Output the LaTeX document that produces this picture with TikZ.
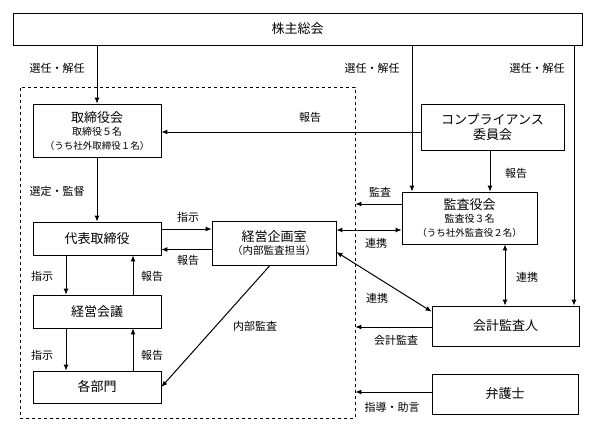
\documentclass[tikz,border=0pt]{standalone}
\usepackage{fontspec}
\setmainfont{Noto Sans CJK JP}
\usetikzlibrary{arrows.meta}
\begin{document}
\begin{tikzpicture}[x=1pt,y=-1pt,
  box/.style={draw,line width=0.8pt,rectangle,inner sep=0pt,align=center,font=\fontsize{13}{16}\selectfont},
  lbl/.style={inner sep=0pt,font=\fontsize{11}{13}\selectfont},
  arr/.style={line width=1pt,-{Latex[length=6pt,width=5pt]}},
  darr/.style={line width=1pt,{Latex[length=6pt,width=5pt]}-{Latex[length=6pt,width=5pt]}},
  grpbox/.style={draw,dashed,line width=0.8pt,rectangle,inner sep=0pt}]
\useasboundingbox (0,0) rectangle (594,431);
% group
\node[grpbox,minimum width=335pt,minimum height=331pt] (grp) at (187.5,252.5) {};
% boxes
\node[box,minimum width=569pt,minimum height=32pt] (sh) at (297.5,29) {株主総会};
\node[box,minimum width=128pt,minimum height=53pt] (tr) at (97,130.5) {取締役会\\[-3pt]{\fontsize{10}{12}\selectfont 取締役５名}\\[-2pt]{\fontsize{9.5}{12}\selectfont （うち社外取締役１名）}};
\node[box,minimum width=128pt,minimum height=33pt] (dt) at (97,238.5) {代表取締役};
\node[box,minimum width=128pt,minimum height=33pt] (kk) at (97,311.5) {経営会議};
\node[box,minimum width=128pt,minimum height=32pt] (kb) at (97,387) {各部門};
\node[box,minimum width=124pt,minimum height=44pt] (mp) at (274,243) {経営企画室\\[-3pt]{\fontsize{10.5}{12}\selectfont （内部監査担当）}};
\node[box,minimum width=143pt,minimum height=46pt] (cp) at (492.5,127) {コンプライアンス\\[-1pt]委員会};
\node[box,minimum width=135pt,minimum height=52pt] (ka) at (469.5,218) {監査役会\\[-3pt]{\fontsize{10}{12}\selectfont 監査役３名}\\[-2pt]{\fontsize{9.5}{12}\selectfont （うち社外監査役２名）}};
\node[box,minimum width=147pt,minimum height=40pt] (ak) at (505.5,326) {会計監査人};
\node[box,minimum width=146pt,minimum height=40pt] (bg) at (505,394) {弁護士};
% arrows
\draw[arr] (sh.south -| tr.north) -- (tr.north);
\draw[arr] ([xshift=-57.5pt]ka.north |- sh.south) -- ([xshift=-57.5pt]ka.north);
\draw[arr] ([xshift=68.5pt]ak.north |- sh.south) -- ([xshift=68.5pt]ak.north);
\draw[arr] ([yshift=-5pt]cp.west) -- ([yshift=-5pt]cp.west -| tr.east);
\draw[arr] ([xshift=-2.5pt]cp.south) -- ([xshift=-2.5pt]cp.south |- ka.north);
\draw[arr] ([yshift=14pt]ka.west) -- ([yshift=14pt]ka.west -| grp.east);
\draw[darr] ([yshift=-12pt]ka.west) -- ([yshift=-12pt]ka.west -| mp.east);
\draw[arr] ([yshift=9.5pt]dt.east) -- ([yshift=9.5pt]dt.east -| mp.west);
\draw[arr] ([yshift=-6.5pt]mp.west) -- ([yshift=-6.5pt]mp.west -| dt.east);
\draw[arr] (tr.south) -- (dt.north);
\draw[arr] ([xshift=-31pt]dt.south) -- ([xshift=-31pt]kk.north);
\draw[arr] ([xshift=36pt]kk.north) -- ([xshift=36pt]dt.south);
\draw[arr] ([xshift=-31pt]kk.south) -- ([xshift=-31pt]kb.north);
\draw[arr] ([xshift=36pt]kb.north) -- ([xshift=36pt]kk.south);
\draw[arr] ([xshift=-4pt]mp.south) -- (kb.east);
\draw[darr] ([yshift=-9pt]mp.east) -- ([yshift=-6pt]ak.north west);
\draw[darr] ([xshift=35.5pt]ka.south) -- ([xshift=35.5pt]ka.south |- ak.north);
\draw[arr] ([yshift=-1pt]ak.west) -- ([yshift=-1pt]ak.west -| grp.east);
\draw[arr] ([yshift=2pt]bg.west) -- ([yshift=2pt]bg.west -| grp.east);
% labels
\node[lbl] (l1) at (57,68) {選任・解任};
\node[lbl] (l2) at (372,68) {選任・解任};
\node[lbl] (l3) at (537,68) {選任・解任};
\node[lbl] (l4) at (310,117) {報告};
\node[lbl] (l5) at (516,173) {報告};
\node[lbl] (l6) at (380,192) {監査};
\node[lbl] (l7) at (376,243) {連携};
\node[lbl] (l8) at (57,191) {選定・監督};
\node[lbl] (l9) at (188,217) {指示};
\node[lbl] (l10) at (188,260) {報告};
\node[lbl] (l11) at (42,276) {指示};
\node[lbl] (l12) at (152,276) {報告};
\node[lbl] (l13) at (42,355) {指示};
\node[lbl] (l14) at (152,355) {報告};
\node[lbl] (l15) at (255,326) {内部監査};
\node[lbl] (l16) at (377,298) {連携};
\node[lbl] (l17) at (527,277) {連携};
\node[lbl] (l18) at (396,340) {会計監査};
\node[lbl] (l19) at (392,407) {指導・助言};
\end{tikzpicture}
\end{document}
